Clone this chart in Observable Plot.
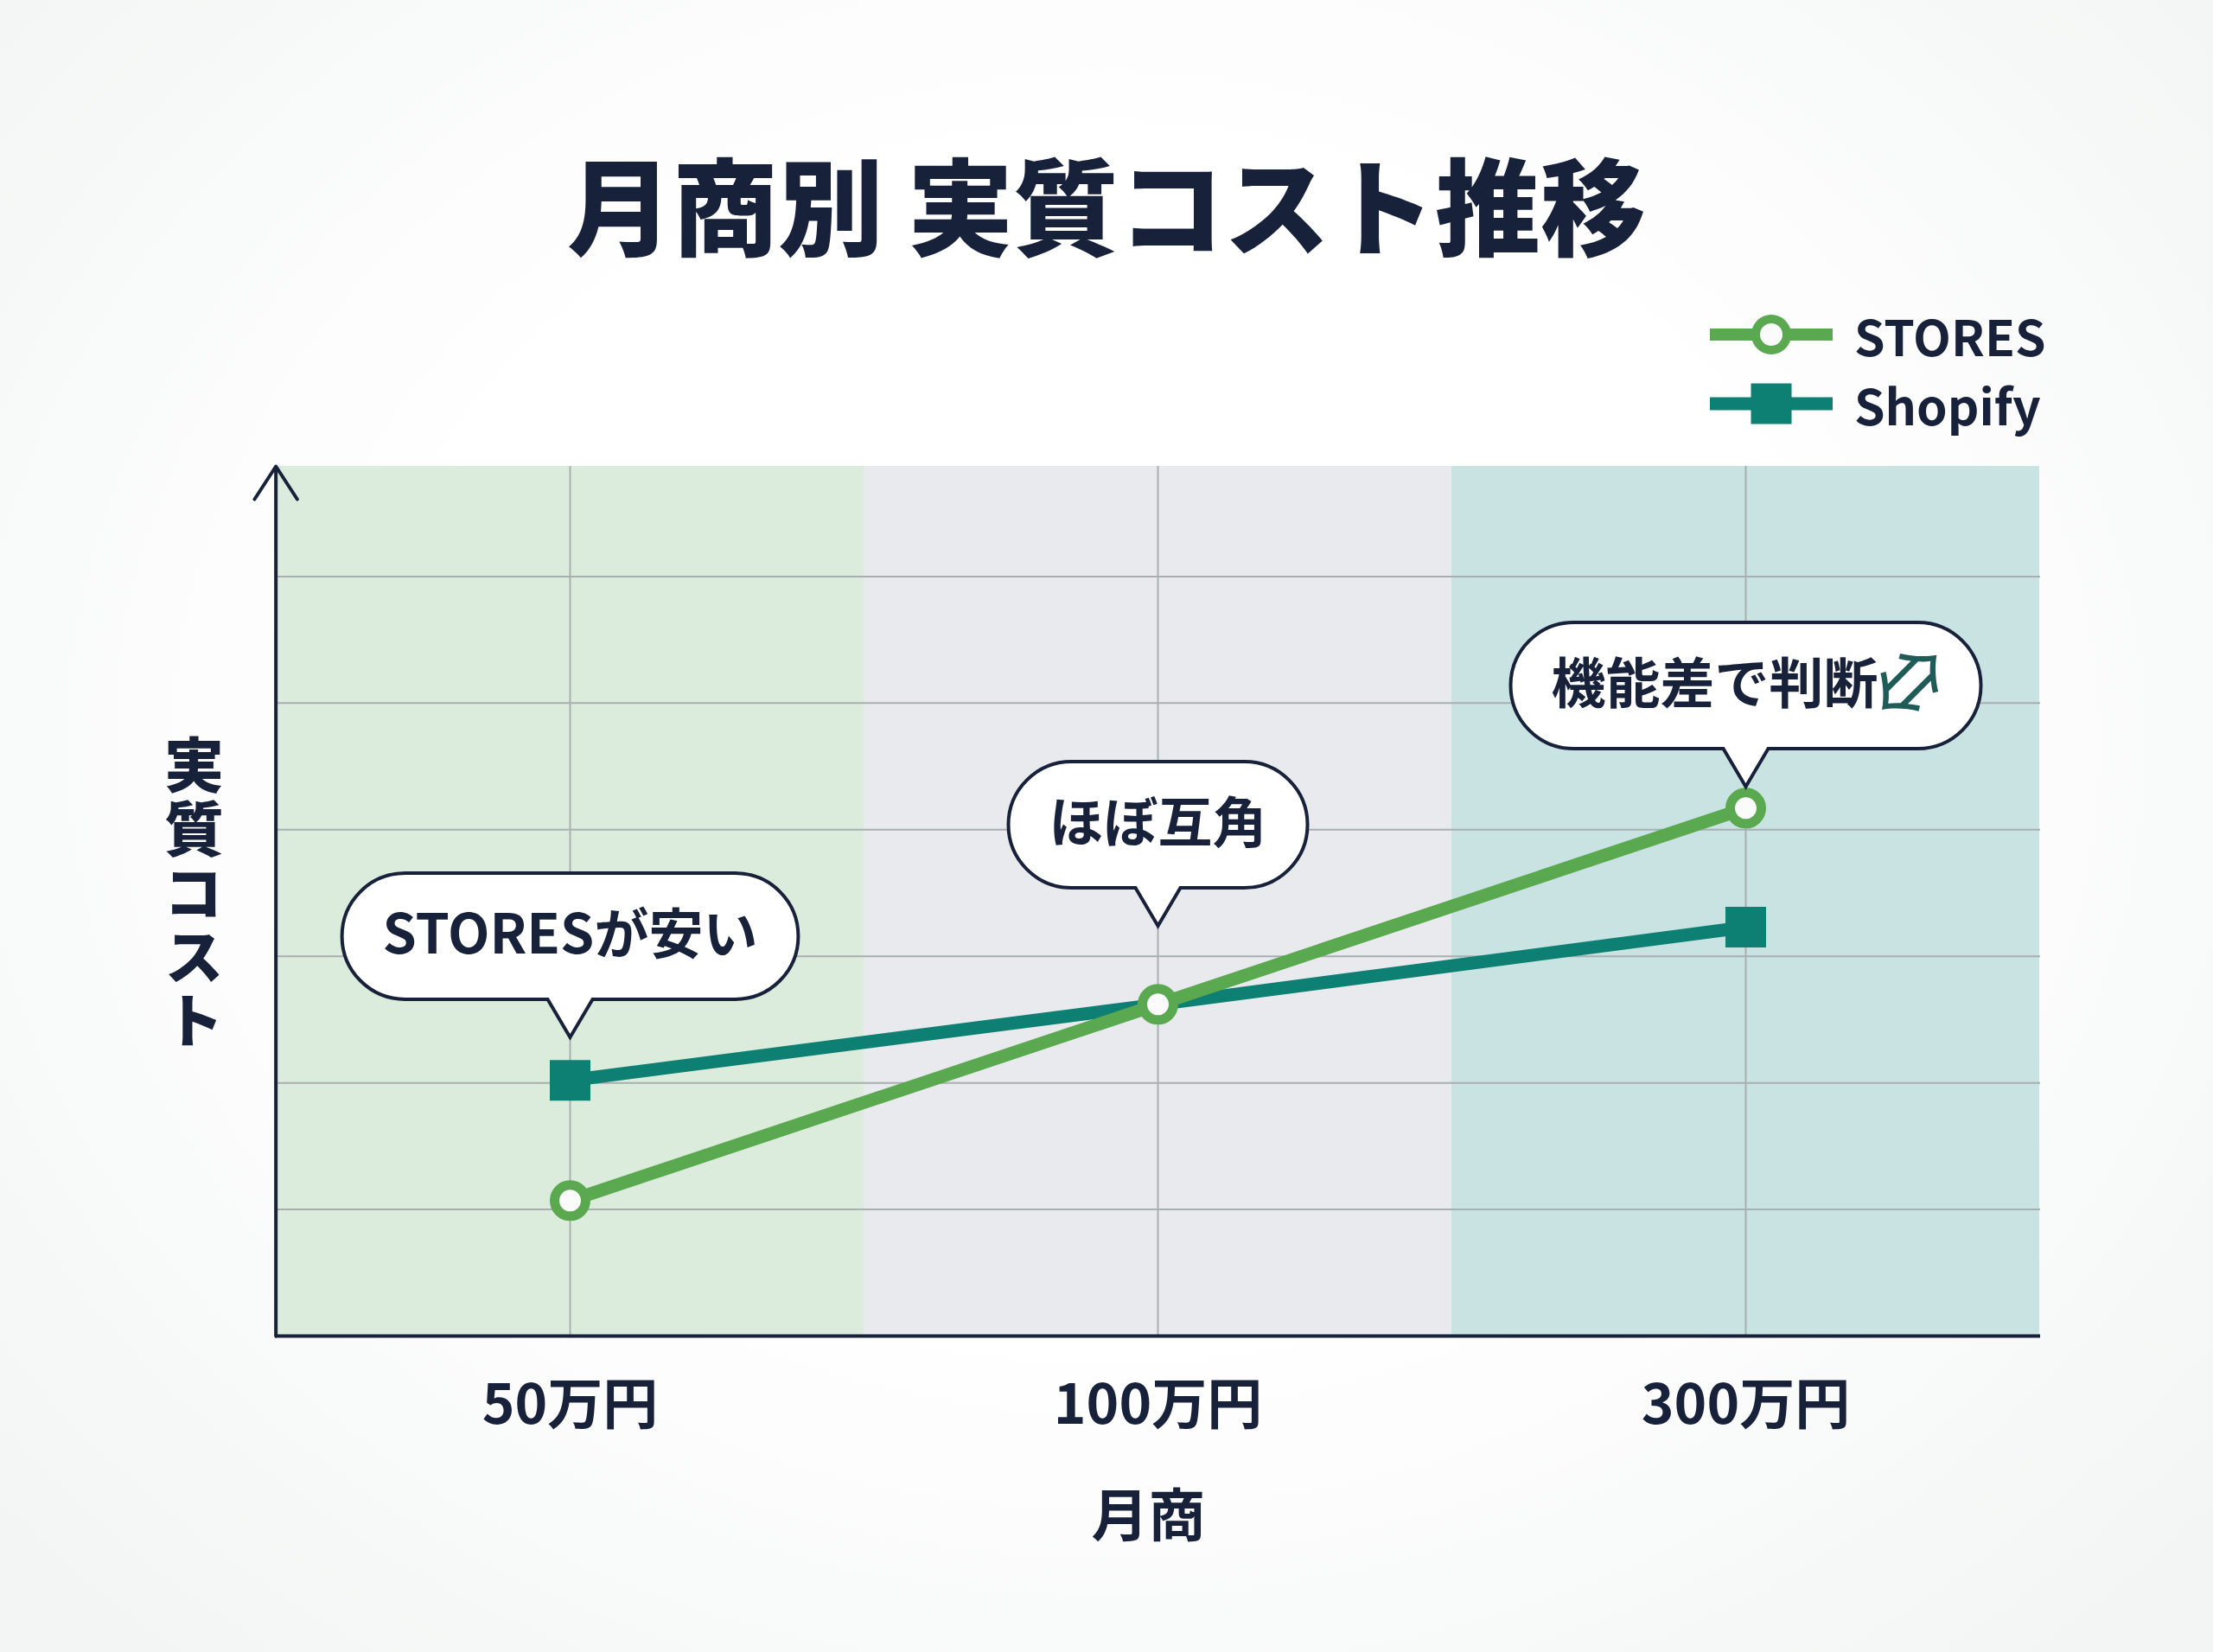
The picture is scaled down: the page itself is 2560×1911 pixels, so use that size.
<!DOCTYPE html>
<html><head><meta charset="utf-8">
<script src="https://cdn.jsdelivr.net/npm/d3@7"></script>
<script src="https://cdn.jsdelivr.net/npm/@observablehq/plot@0.6"></script>
<style>
html,body{margin:0;padding:0;}
body{width:2560px;height:1911px;position:relative;overflow:hidden;background:radial-gradient(ellipse at 50% 45%, #ffffff 45%, #f1f4f2 100%);font-family:"Noto Sans CJK JP","Noto Sans",sans-serif;color:#18213a;}
#title{position:absolute;left:0;top:172px;width:2560px;text-align:center;font-size:122px;font-weight:900;line-height:1;}
#legend{position:absolute;left:1978px;top:347px;}
.row{display:flex;align-items:center;height:80px;}
.row span{margin-left:25px;font-size:57px;font-weight:700;line-height:1;}
#chart{position:absolute;left:0;top:510px;}
</style></head><body>
<div id="title"></div>
<div id="legend"></div>
<div id="chart"></div>
<script>
// ---- data ----
const titleText = "月商別 実質コスト推移";
const xTitle = "月商";
const yTitle = "実質コスト";
const categories = ["50万円", "100万円", "300万円"];
const seriesNames = ["STORES", "Shopify"];
const storesCost = [10.7, 26.2, 41.7];
const shopifyCost = [20.2, 26.2, 32.3];
const yMax = 68.7;
const yGridTicks = [10, 20, 30, 40, 50, 60];
const calloutCats = ["50万円", "100万円", "300万円"];
const calloutLabels = ["STORESが安い", "ほぼ互角", "機能差で判断"];
const calloutTips = [23.6, 32.4, 43.4];
const calloutIcons = ["", "", "⇔"];

// ---- styles ----
const NAVY = "#18213a", GREEN = "#5aa84f", TEAL = "#0e7f73", GRID = "#a9afb0", ICON = "#1f5c57";
const bandColors = ["#dcecdc", "#e9eaee", "#c8e3e1"];
const FONT = "'Noto Sans CJK JP', 'Noto Sans', sans-serif";
const W = 2560, H = 1401, ML = 318, MR = 200, MT = 29, MB = 366;
const bw = (W - ML - MR) / categories.length;

document.getElementById("title").textContent = titleText;

// legend
const legendSpecs = [
  {name: seriesNames[0], color: GREEN, lw: 14, marker: `<circle cx="71" cy="24" r="18" fill="#fbfbfb" stroke="${GREEN}" stroke-width="10"/>`},
  {name: seriesNames[1], color: TEAL, lw: 15, marker: `<rect x="47.5" y="0.5" width="47" height="47" fill="${TEAL}"/>`}
];
document.getElementById("legend").innerHTML = legendSpecs.map(s =>
  `<div class="row"><svg width="142" height="48"><line x1="0" x2="142" y1="24" y2="24" stroke="${s.color}" stroke-width="${s.lw}"/>${s.marker}</svg><span>${s.name}</span></div>`
).join("");

// measure text
const cv = document.createElement("canvas").getContext("2d");
function textWidth(s, size, weight) {
  cv.font = `${weight} ${size}px "Noto Sans CJK JP"`;
  return cv.measureText(s).width;
}

function calloutSymbol(w, h, ph, pw) {
  const r = h / 2;
  return {draw(ctx) {
    const bottom = -ph, top = -ph - h, left = -w / 2, right = w / 2;
    ctx.moveTo(0, 0);
    ctx.lineTo(-pw / 2, bottom);
    ctx.lineTo(left + r, bottom);
    ctx.arc(left + r, bottom - r, r, Math.PI / 2, 3 * Math.PI / 2);
    ctx.lineTo(right - r, top);
    ctx.arc(right - r, top + r, r, -Math.PI / 2, Math.PI / 2);
    ctx.lineTo(pw / 2, bottom);
    ctx.closePath();
  }};
}

const storesData = categories.map((c, i) => ({cat: c, v: storesCost[i]}));
const shopifyData = categories.map((c, i) => ({cat: c, v: shopifyCost[i]}));
// a Shopify marker is hidden where both series meet (STORES marker drawn on top)
const shopifyMarkers = shopifyData.filter((d, i) => shopifyCost[i] !== storesCost[i]);
const bandData = categories.map((c, i) => ({cat: c, fill: bandColors[i]}));
const callouts = calloutCats.map((c, i) => ({cat: c, tip: calloutTips[i], label: calloutLabels[i], icon: calloutIcons[i]}));

const CFS = 63, PAD = 47, BH = 146, PH = 44, PW = 52, ICONW = 64, GAP = 8;
const calloutMarks = callouts.flatMap(c => {
  const tw = textWidth(c.label, CFS, 700);
  const total = tw + (c.icon ? GAP + ICONW : 0);
  const boxW = total + 2 * PAD;
  const cy = -(PH + BH / 2);
  const m = [
    Plot.dot([c], {x: "cat", y: "tip", r: 1, symbol: calloutSymbol(boxW, BH, PH, PW), fill: "#ffffff", stroke: NAVY, strokeWidth: 4}),
    Plot.text([c], {x: "cat", y: "tip", text: "label", dx: -total / 2 + tw / 2, dy: cy, fontSize: CFS, fontWeight: 700, fill: NAVY, textAnchor: "middle", lineAnchor: "middle"})
  ];
  if (c.icon) m.push(Plot.text([c], {x: "cat", y: "tip", text: "icon", dx: total / 2 - ICONW / 2, dy: cy, rotate: -45, fontSize: 94, fontWeight: 400, fill: ICON, textAnchor: "middle", lineAnchor: "middle"}));
  return m;
});

const chart = Plot.plot({
  width: W, height: H,
  marginLeft: ML, marginRight: MR, marginTop: MT, marginBottom: MB,
  style: {fontFamily: FONT, background: "transparent", overflow: "visible", color: NAVY},
  x: {type: "band", domain: categories, padding: 0, axis: null},
  y: {domain: [0, yMax], axis: null},
  color: {type: "identity"},
  marks: [
    Plot.barY(bandData, {x: "cat", y1: 0, y2: yMax, fill: "fill", inset: 0}),
    Plot.ruleY(yGridTicks, {stroke: GRID, strokeWidth: 2}),
    Plot.ruleX(categories, {y1: 0, y2: yMax, stroke: GRID, strokeWidth: 2}),
    Plot.ruleY([0], {stroke: NAVY, strokeWidth: 4}),
    Plot.arrow([{cat: categories[0]}], {x1: "cat", x2: "cat", y1: 0, y2: yMax, dx: -bw / 2, stroke: NAVY, strokeWidth: 4, headAngle: 66, headLength: 17}),
    Plot.line(shopifyData, {x: "cat", y: "v", stroke: TEAL, strokeWidth: 15}),
    Plot.line(storesData, {x: "cat", y: "v", stroke: GREEN, strokeWidth: 15}),
    Plot.dot(shopifyMarkers, {x: "cat", y: "v", symbol: "square", r: 26.5, fill: TEAL}),
    Plot.dot(storesData, {x: "cat", y: "v", r: 18, fill: "#fbfbfb", stroke: GREEN, strokeWidth: 11}),
    ...calloutMarks,
    Plot.text(categories, {x: d => d, frameAnchor: "bottom", dy: 81, fontSize: 64, fontWeight: 700, fill: NAVY, textAnchor: "middle", lineAnchor: "middle"}),
    Plot.text([xTitle], {frameAnchor: "bottom", dx: -11, dy: 210, fontSize: 66, fontWeight: 700, fill: NAVY, textAnchor: "middle", lineAnchor: "middle"}),
    Plot.text([yTitle], {frameAnchor: "left", dx: -94, dy: -29, fontSize: 69, fontWeight: 900, fill: NAVY, textAnchor: "middle", lineAnchor: "middle"})
  ]
});
// vertical (tategaki) writing for the y-axis title
for (const t of chart.querySelectorAll("text")) {
  if (t.textContent === yTitle) {
    t.removeAttribute("dy");
    t.style.writingMode = "vertical-rl";
    t.style.letterSpacing = "5px";
  }
}
document.getElementById("chart").appendChild(chart);
</script>
</body></html>
